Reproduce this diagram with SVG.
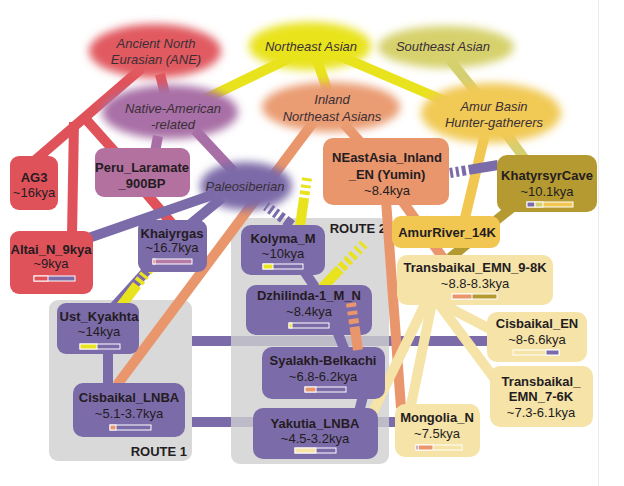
<svg xmlns="http://www.w3.org/2000/svg" width="624" height="486" viewBox="0 0 624 486">
<defs>
<filter id="soft" x="-30%" y="-50%" width="160%" height="200%"><feGaussianBlur stdDeviation="4"/></filter>
<style>
.l{fill:none;stroke-width:10;stroke-linecap:butt}
.red{stroke:#e0525a}.mau{stroke:#a86fa6}.pur{stroke:#7b6ba8}.yel{stroke:#e9e31e}
.sea{stroke:#d5cf72}.amr{stroke:#f1c752}.org{stroke:#e9966c}.olv{stroke:#b49a30}.pal{stroke:#f5e3a7}
.t{font-family:"Liberation Sans",Arial,Helvetica,sans-serif;font-size:13px;fill:#241c22;text-anchor:middle}
.b{font-weight:bold}
.i{font-style:italic;fill:#3a2f37}
.bar{stroke:#fff;stroke-width:1}
.route{fill:#d9d9d9}
</style>
</defs>
<rect width="624" height="486" fill="#fff"/>
<line x1="598.5" y1="0" x2="598.5" y2="486" stroke="#ececec"/>

<g id="route1"><rect class="route" x="49" y="300" width="143" height="161" rx="9"/>
<text class="t b" x="187" y="456" style="text-anchor:end">ROUTE 1</text></g>

<g id="connectors-back">
<path class="l pur" d="M192,341 L490,341" stroke-linecap="round" stroke-width="9"/>
<path class="l pur" d="M192,422 L397,422" stroke-linecap="round" stroke-width="9"/>
</g>

<g id="route2"><rect x="231" y="218" width="158" height="246" rx="9" fill="#cfcfcf" fill-opacity="0.8"/>
<text class="t b" x="386" y="233" style="text-anchor:end">ROUTE 2</text></g>

<g id="connectors">
<path class="l red" d="M142,68 L33,162"/>
<path class="l red" d="M74,122 L72,236"/>
<path class="l red" d="M83,116 L116,153"/>
<path class="l red" d="M160,74 L165,94"/>
<path class="l red" d="M145,192 L174,226"/>
<path class="l mau" d="M158,136 L155,152"/>
<path class="l mau" d="M195,130 L234,172"/>
<path class="l yel" d="M292,57 L205,99"/>
<path class="l yel" d="M317,60 L328,92"/>
<path class="l yel" d="M335,54 L452,104"/>
<path class="l sea" d="M450,60 L482,100"/>
<path class="l sea" d="M502,128 L527,162"/>
<path class="l amr" d="M486,130 L465,218"/>
<path class="l org" d="M315,120 L117,385"/>
<path class="l org" d="M344,124 L364,146"/>
<path class="l org" d="M386,200 L401,408" stroke-width="9"/>
<path class="l org" d="M398,195 L443,258"/>
<path class="l olv" d="M515,205 L450,258"/>
<path class="l pur" d="M215,194 L80,241"/>
<path class="l pur" d="M222,198 L188,226"/>
<path class="l pur" d="M151,266 L112,309"/>
<path class="l pur" d="M108,350 L108,388"/>
<path class="l pur" d="M304,271 L317,290"/>
<path class="l pur" d="M337,331 L345,351"/>
<path class="l pur" d="M363,396 L359,412"/>
<path class="l pal" d="M428,298 L372,414" stroke-width="11"/>
<path class="l pal" d="M433,298 L410,410" stroke-width="11"/>
<path class="l pal" d="M436,300 L497,382" stroke-width="11"/>
<path class="l pal" d="M438,302 L492,330" stroke-width="11"/>
<path class="l yel" d="M307,178 L300,226" stroke-width="8" stroke-dasharray="3 4 3 3 4 3 100"/>
<path class="l yel" d="M149,269 L121,306" stroke-width="8" stroke-dasharray="3 4 3 3 4 3 100"/>
<path class="l yel" d="M364,244 L322,288" stroke-width="8" stroke-dasharray="3 4 3 4 4 3 4 3 5 2 100"/>
<path class="l pur" d="M266,206 L292,225" stroke-width="6" stroke-dasharray="2 3 3 3 3 3 4 3 100"/>
<path class="l pur" d="M450,173 L498,165" stroke-width="9" stroke-dasharray="3 3 3 3 4 3 100"/>
</g>

<g id="ane"><ellipse cx="155" cy="51" rx="66" ry="27" fill="#e15a60" filter="url(#soft)"/>
<text class="t i" x="156" y="48">Ancient North</text><text class="t i" x="156" y="64">Eurasian (ANE)</text></g>
<g id="northeast-asian"><ellipse cx="310" cy="46" rx="61" ry="24" fill="#e9e31e" filter="url(#soft)"/>
<text class="t i" x="311" y="51">Northeast Asian</text></g>
<g id="southeast-asian"><ellipse cx="446" cy="47" rx="68" ry="21" fill="#d6d16c" filter="url(#soft)"/>
<text class="t i" x="443" y="51">Southeast Asian</text></g>
<g id="native-american"><ellipse cx="170" cy="112" rx="68" ry="27" fill="#a86fa6" filter="url(#soft)"/>
<text class="t i" x="173" y="113">Native-American</text><text class="t i" x="173" y="129">-related</text></g>
<g id="inland-ne"><ellipse cx="331" cy="107" rx="69" ry="25" fill="#ea9c72" filter="url(#soft)"/>
<text class="t i" x="332" y="104">Inland</text><text class="t i" x="332" y="121">Northeast Asians</text></g>
<g id="amur-basin"><ellipse cx="491" cy="113" rx="70" ry="30" fill="#f1c955" filter="url(#soft)"/>
<text class="t i" x="494" y="111">Amur Basin</text><text class="t i" x="494" y="127">Hunter-gatherers</text></g>
<g id="paleosiberian"><ellipse cx="246" cy="186" rx="46" ry="24" fill="#7b6ba8" filter="url(#soft)"/>
<text class="t i" x="245" y="191">Paleosiberian</text></g>

<g id="ag3"><rect x="10" y="156" width="48" height="54" rx="9" fill="#e0525a"/>
<text class="t b" x="34" y="182">AG3</text><text class="t" x="34" y="197">~16kya</text></g>
<g id="altai"><rect x="10" y="231" width="83" height="63" rx="9" fill="#e0525a"/>
<text class="t b" x="51" y="254">Altai_N_9kya</text><text class="t" x="51" y="268">~9kya</text>
<rect class="bar" x="34" y="276" width="41" height="5" fill="#7b6ba8"/><rect class="bar" x="34" y="276" width="14" height="5" fill="#e0525a"/></g>
<g id="peru"><rect x="95" y="148" width="95" height="49" rx="9" fill="#b3719f"/>
<text class="t b" x="142" y="172">Peru_Laramate</text><text class="t b" x="142" y="188">_900BP</text></g>
<g id="khaiyrgas"><rect x="138" y="220" width="69" height="52" rx="9" fill="#7b6ba8"/>
<text class="t b" x="172" y="238">Khaiyrgas</text><text class="t" x="172" y="252">~16.7kya</text>
<rect class="bar" x="153" y="259" width="39" height="5" fill="#b57ca8"/><rect class="bar" x="153" y="259" width="2" height="5" fill="#e0525a"/></g>
<g id="ust-kyakhta"><rect x="57" y="303" width="82" height="51" rx="9" fill="#7b6ba8"/>
<text class="t b" x="99" y="321">Ust_Kyakhta</text><text class="t" x="99" y="336">~14kya</text>
<rect class="bar" x="80" y="344" width="40" height="5" fill="#7b6ba8"/><rect class="bar" x="80" y="344" width="17" height="5" fill="#e9e31e"/></g>
<g id="cisbaikal-lnba"><rect x="73" y="383" width="112" height="54" rx="10" fill="#7b6ba8"/>
<text class="t b" x="129" y="402">Cisbaikal_LNBA</text><text class="t" x="129" y="418">~5.1-3.7kya</text>
<rect class="bar" x="110" y="425" width="41" height="5" fill="#7b6ba8"/><rect class="bar" x="110" y="425" width="6" height="5" fill="#e9966c"/></g>
<g id="kolyma"><rect x="241" y="225" width="84" height="50" rx="10" fill="#7b6ba8"/>
<text class="t b" x="283" y="243">Kolyma_M</text><text class="t" x="283" y="258">~10kya</text>
<rect class="bar" x="263" y="264" width="40" height="5" fill="#7b6ba8"/><rect class="bar" x="263" y="264" width="10" height="5" fill="#e9e31e"/></g>
<g id="dzhilinda"><rect x="246" y="285" width="126" height="50" rx="10" fill="#7b6ba8"/>
<text class="t b" x="309" y="300">Dzhilinda-1_M_N</text><text class="t" x="309" y="316">~8.4kya</text>
<rect class="bar" x="289" y="323" width="40" height="5" fill="#7b6ba8"/><rect class="bar" x="289" y="323" width="3" height="5" fill="#e9e31e"/></g>
<g id="syalakh"><rect x="262" y="347" width="123" height="52" rx="10" fill="#7b6ba8"/>
<text class="t b" x="323" y="365">Syalakh-Belkachi</text><text class="t" x="323" y="381">~6.8-6.2kya</text>
<rect class="bar" x="305" y="387" width="41" height="5" fill="#7b6ba8"/><rect class="bar" x="305" y="387" width="11" height="5" fill="#e9966c"/></g>
<g id="yakutia"><rect x="253" y="408" width="125" height="51" rx="10" fill="#7b6ba8"/>
<text class="t b" x="315" y="428">Yakutia_LNBA</text><text class="t" x="315" y="443">~4.5-3.2kya</text>
<rect class="bar" x="295" y="448" width="41" height="5" fill="#7b6ba8"/><rect class="bar" x="295" y="448" width="21" height="5" fill="#f5e3a7"/></g>
<g id="neastasia-inland"><rect x="323" y="138" width="126" height="67" rx="10" fill="#e9966c"/>
<text class="t b" x="387" y="162">NEastAsia_Inland</text><text class="t b" x="387" y="179">_EN (Yumin)</text><text class="t" x="387" y="195">~8.4kya</text></g>
<g id="khatyrsyr"><rect x="497" y="155" width="100" height="57" rx="10" fill="#b49a30"/>
<text class="t b" x="547" y="180">KhatyrsyrCave</text><text class="t" x="547" y="196">~10.1kya</text>
<rect class="bar" x="527" y="202" width="46" height="5" fill="#f1c752"/><rect class="bar" x="527" y="202" width="8" height="5" fill="#7b6ba8"/><rect class="bar" x="535" y="202" width="8" height="5" fill="#d6d16c"/></g>
<g id="amurriver"><rect x="392" y="216" width="108" height="32" rx="9" fill="#f1c752"/>
<text class="t b" x="447" y="237">AmurRiver_14K</text></g>
<g id="transbaikal-9-8k"><rect x="397" y="255" width="156" height="50" rx="10" fill="#f5e3a7"/>
<text class="t b" x="475" y="272">Transbaikal_EMN_9-8K</text><text class="t" x="475" y="288">~8.8-8.3kya</text>
<rect class="bar" x="452" y="294" width="45" height="5" fill="#b49a30"/><rect class="bar" x="452" y="294" width="20" height="5" fill="#e9966c"/></g>
<g id="cisbaikal-en"><rect x="487" y="312" width="100" height="50" rx="10" fill="#f5e3a7"/>
<text class="t b" x="537" y="328">Cisbaikal_EN</text><text class="t" x="537" y="344">~8-6.6kya</text>
<rect class="bar" x="513" y="350" width="46" height="5" fill="#f5e3a7"/><rect class="bar" x="546" y="350" width="13" height="5" fill="#7b6ba8"/></g>
<g id="transbaikal-7-6k"><rect x="490" y="366" width="103" height="61" rx="10" fill="#f5e3a7"/>
<text class="t b" x="541" y="386">Transbaikal_</text><text class="t b" x="541" y="401">EMN_7-6K</text><text class="t" x="541" y="417">~7.3-6.1kya</text></g>
<g id="mongolia"><rect x="395" y="404" width="85" height="53" rx="10" fill="#f5e3a7"/>
<text class="t b" x="437" y="422">Mongolia_N</text><text class="t" x="437" y="438">~7.5kya</text>
<rect class="bar" x="416" y="445" width="46" height="5" fill="#f5e3a7"/><rect class="bar" x="418" y="445" width="15" height="5" fill="#e9966c"/><rect class="bar" x="416" y="445" width="2" height="5" fill="#7b6ba8"/></g>

<g id="connectors-over">
<path class="l org" d="M351,303 L358,350" stroke-dasharray="4 4 4 4 5 3 100"/>
</g>
</svg>
